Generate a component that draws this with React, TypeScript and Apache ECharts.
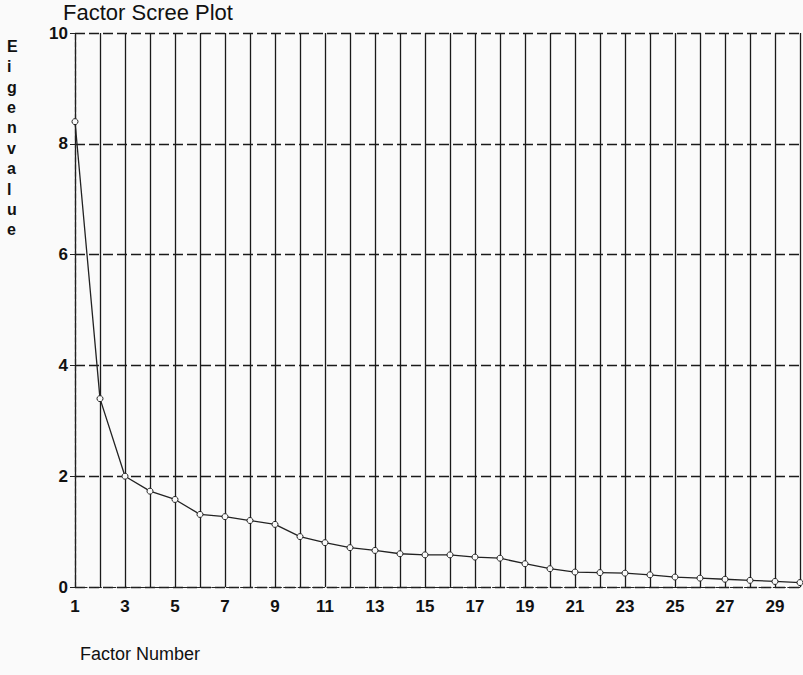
import React, { useEffect, useRef } from "react";
import * as echarts from "echarts";

const factors = [1,2,3,4,5,6,7,8,9,10,11,12,13,14,15,16,17,18,19,20,21,22,23,24,25,26,27,28,29,30];
const eigenvalues = [8.4,3.4,2.0,1.73,1.58,1.31,1.27,1.2,1.13,0.91,0.8,0.71,0.66,0.6,0.58,0.58,0.54,0.52,0.42,0.33,0.27,0.26,0.25,0.22,0.18,0.16,0.14,0.12,0.1,0.08];
const xTickLabels = ["1","3","5","7","9","11","13","15","17","19","21","23","25","27","29"];
const yTickLabels = ["0","2","4","6","8","10"];
const titleText = "Factor Scree Plot";
const xAxisTitle = "Factor Number";
const yAxisTitle = "Eigenvalue";

const NARROW = '"Liberation Sans Narrow", "Liberation Sans", Arial, sans-serif';
const SANS = '"Liberation Sans", Arial, sans-serif';

export default function App() {
  const ref = useRef<HTMLDivElement>(null);
  useEffect(() => {
    if (!ref.current) return;
    const chart = echarts.init(ref.current, undefined, { renderer: "svg" });
    const pts = factors.map((f, i) => [f, eigenvalues[i]]);
    chart.setOption({
      animation: false,
      backgroundColor: "#fafafa",
      grid: { left: 75, top: 33, width: 730, height: 554 },
      xAxis: {
        type: "value",
        min: 1,
        max: 30,
        interval: 1,
        axisLine: { show: true, onZero: false, lineStyle: { color: "#222", width: 1.2, type: "dashed" } },
        axisTick: { show: false },
        axisLabel: {
          margin: 11,
          color: "#111",
          fontFamily: NARROW,
          fontWeight: "bold",
          fontSize: 17,
          formatter: (v: number) => (xTickLabels.includes(String(v)) ? String(v) : ""),
        },
        splitLine: { show: true, lineStyle: { color: "#1a1a1a", width: 1.3 } },
      },
      yAxis: {
        type: "value",
        min: 0,
        max: 10,
        interval: 2,
        axisLine: { show: true, onZero: false, lineStyle: { color: "#222", width: 1.2, type: "dashed" } },
        axisTick: { show: true, length: 5, lineStyle: { color: "#222" } },
        axisLabel: {
          margin: 7,
          color: "#111",
          fontFamily: NARROW,
          fontWeight: "bold",
          fontSize: 17,
          formatter: (v: number) => (yTickLabels.includes(String(v)) ? String(v) : ""),
        },
        splitLine: { show: true, lineStyle: { color: "#1a1a1a", width: 1.3, type: [10, 4] } },
      },
      graphic: [
        {
          type: "text",
          left: 63,
          top: 1,
          style: { text: titleText, fontFamily: SANS, fontSize: 22, fill: "#111" },
        },
        {
          type: "text",
          left: 7,
          top: 36,
          style: {
            text: yAxisTitle.split("").join("\n"),
            fontFamily: SANS,
            fontWeight: "bold",
            fontSize: 16,
            lineHeight: 20.4,
            align: "center",
            fill: "#111",
          },
        },
        {
          type: "text",
          left: 80,
          top: 645,
          style: { text: xAxisTitle, fontFamily: SANS, fontSize: 18, fill: "#111" },
        },
      ],
      series: [
        {
          type: "line",
          data: pts,
          symbol: "circle",
          symbolSize: 6,
          showSymbol: true,
          lineStyle: { color: "#222", width: 1.3 },
          itemStyle: { color: "#fafafa", borderColor: "#222", borderWidth: 1 },
        },
      ],
    });
    return () => chart.dispose();
  }, []);
  return <div ref={ref} style={{ width: 803, height: 675, position: "absolute", left: 0, top: 0 }} />;
}
